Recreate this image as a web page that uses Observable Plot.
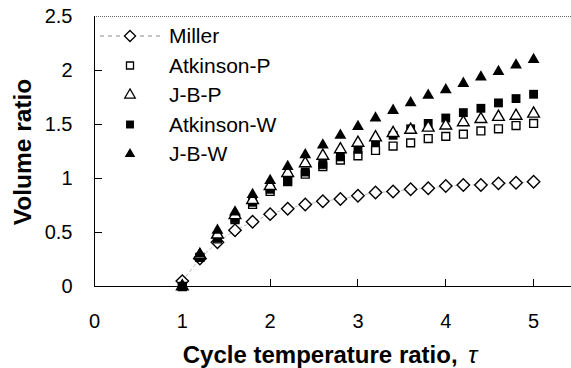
<!DOCTYPE html>
<html><head><meta charset="utf-8">
<script src="https://cdn.jsdelivr.net/npm/d3@7"></script>
<script src="https://cdn.jsdelivr.net/npm/@observablehq/plot@0.6"></script>
<style>
body{margin:0;background:#fff;}
#chart{position:relative;width:571px;height:368px;overflow:hidden;}
</style>
</head><body><div id="chart"></div>
<script>
// ---- data ----
const tau       = [1, 1.2, 1.4, 1.6, 1.8, 2, 2.2, 2.4, 2.6, 2.8, 3, 3.2, 3.4, 3.6, 3.8, 4, 4.2, 4.4, 4.6, 4.8, 5];
const miller    = [0.05, 0.26, 0.41, 0.52, 0.60, 0.67, 0.72, 0.76, 0.79, 0.81, 0.84, 0.87, 0.88, 0.90, 0.91, 0.93, 0.94, 0.94, 0.955, 0.96, 0.97];
const atkinsonP = [0, 0.27, 0.44, 0.62, 0.76, 0.88, 0.97, 1.04, 1.11, 1.17, 1.21, 1.26, 1.30, 1.33, 1.37, 1.39, 1.41, 1.44, 1.46, 1.49, 1.51];
const jbP       = [0, 0.29, 0.48, 0.66, 0.80, 0.93, 1.05, 1.14, 1.21, 1.27, 1.33, 1.38, 1.42, 1.45, 1.47, 1.49, 1.52, 1.55, 1.57, 1.58, 1.60];
const atkinsonW = [0, 0.27, 0.45, 0.63, 0.78, 0.90, 0.98, 1.06, 1.13, 1.20, 1.27, 1.34, 1.40, 1.46, 1.51, 1.56, 1.61, 1.65, 1.70, 1.74, 1.78];
const jbW       = [0, 0.30, 0.52, 0.69, 0.85, 0.98, 1.11, 1.22, 1.31, 1.40, 1.48, 1.56, 1.63, 1.70, 1.77, 1.82, 1.88, 1.94, 1.99, 2.05, 2.10];
const seriesNames = ["Miller", "Atkinson-P", "J-B-P", "Atkinson-W", "J-B-W"];
const xTicks = [0, 1, 2, 3, 4, 5];
const yTicks = [0, 0.5, 1, 1.5, 2, 2.5];
const xTitle = "Cycle temperature ratio, ";
const xTitleSymbol = "\u03C4";
const yTitle = "Volume ratio";

const rows = (vals) => tau.map((t, i) => ({tau: t, v: vals[i]}));
const mRows = rows(miller), apRows = rows(atkinsonP), jpRows = rows(jbP), awRows = rows(atkinsonW), jwRows = rows(jbW);

// styles per series (legend + marks)
const styles = {
  "Miller":     {symbol: "diamond2", r: 5.6, fill: "#fff", stroke: "#000"},
  "Atkinson-P": {symbol: "square2",  r: 5.0, fill: "#fff", stroke: "#000"},
  "J-B-P":      {symbol: "triangle2",r: 5.6, fill: "#fff", stroke: "#000"},
  "Atkinson-W": {symbol: "square",   r: 5.0, fill: "#000", stroke: "none"},
  "J-B-W":      {symbol: "triangle", r: 4.4, fill: "#000", stroke: "none"}
};
const dot = (data, name) => Plot.dot(data, {x: "tau", y: "v", ...styles[name], strokeWidth: 1.4});

const plot = Plot.plot({
  width: 571, height: 368,
  marginLeft: 94, marginTop: 16, marginBottom: 82, marginRight: 0,
  x: {domain: [0, 5.5], range: [94, 577]},
  y: {domain: [0, 2.5], range: [286, 16]},
  style: {fontFamily: "'Liberation Sans', Arial, sans-serif", fontSize: "20px", color: "#000", background: "#fff"},
  marks: [
    Plot.ruleY([2.5], {stroke: "#666", strokeDasharray: "1,1", strokeWidth: 1}),
    Plot.ruleX([0], {stroke: "#000", strokeWidth: 1}),
    Plot.ruleY([0], {stroke: "#000", strokeWidth: 1}),
    Plot.line(mRows, {x: "tau", y: "v", stroke: "#aaa", strokeWidth: 0.8, strokeDasharray: "3,3"}),
    dot(mRows, "Miller"),
    dot(apRows, "Atkinson-P"),
    dot(awRows, "Atkinson-W"),
    dot(jpRows, "J-B-P"),
    dot(jwRows, "J-B-W"),
    Plot.axisX({ticks: xTicks, tickSize: 0, tickPadding: 27, tickFormat: d => String(d), label: null, fontSize: 20}),
    Plot.axisY({ticks: yTicks, tickSize: 0, tickPadding: 22, tickFormat: d => String(d), label: null, fontSize: 20})
  ]
});

document.getElementById("chart").appendChild(plot);
const svg = d3.select(plot);
const sx = plot.scale("x"), sy = plot.scale("y");

// inward ticks
const tg = svg.append("g").attr("stroke", "#000").attr("stroke-width", 1);
yTicks.filter(d => d > 0 && d < 2.5).forEach(d => {
  const y = Math.round(sy.apply(d)) + 0.5;
  tg.append("line").attr("x1", sx.apply(0)).attr("x2", sx.apply(0) + 8).attr("y1", y).attr("y2", y);
});
xTicks.filter(d => d > 0).forEach(d => {
  const x = Math.round(sx.apply(d)) + 0.5;
  tg.append("line").attr("x1", x).attr("x2", x).attr("y1", sy.apply(0)).attr("y2", sy.apply(0) - 7);
});

// axis titles
const xt = svg.append("text").attr("x", 330).attr("y", 363).attr("text-anchor", "middle")
  .attr("font-size", 24).attr("font-weight", "bold").attr("fill", "#000");
xt.append("tspan").text(xTitle);
xt.append("tspan").attr("font-style", "italic").attr("font-weight", "normal").attr("dx", 4).text(xTitleSymbol);
svg.append("text").attr("transform", "translate(31,152) rotate(-90)").attr("text-anchor", "middle")
  .attr("font-size", 24.5).attr("font-weight", "bold").attr("fill", "#000").text(yTitle);

// legend
const symMap = {diamond2: d3.symbolDiamond2, square2: d3.symbolSquare2, triangle2: d3.symbolTriangle2, square: d3.symbolSquare, triangle: d3.symbolTriangle};
const lg = svg.append("g").attr("text-anchor", "start");
seriesNames.forEach((name, i) => {
  const y = 36 + i * 29.5;
  const s = styles[name];
  if (name === "Miller") {
    lg.append("line").attr("x1", 100).attr("x2", 162).attr("y1", y).attr("y2", y)
      .attr("stroke", "#888").attr("stroke-width", 1).attr("stroke-dasharray", "4,4");
  }
  lg.append("path").attr("transform", `translate(130,${y})`)
    .attr("d", d3.symbol(symMap[s.symbol], Math.PI * s.r * s.r * 0.8)())
    .attr("fill", s.fill).attr("stroke", s.stroke).attr("stroke-width", 1.3);
  lg.append("text").attr("x", 169).attr("y", y).attr("dy", "0.35em").attr("text-anchor", "start")
    .attr("font-size", 21).attr("fill", "#000").text(name);
});
</script>
</body></html>
